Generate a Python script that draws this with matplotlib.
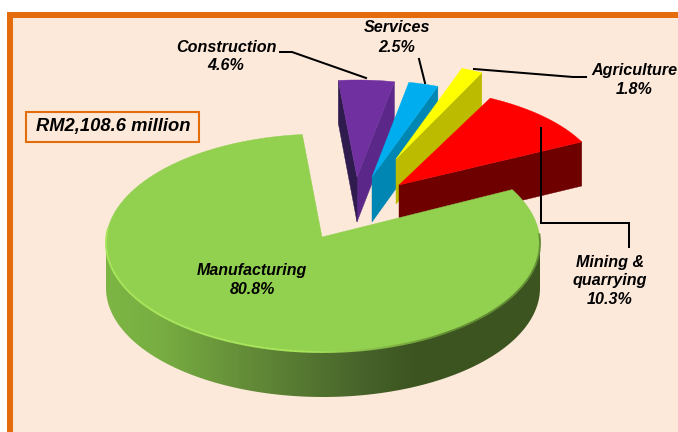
import numpy as np
import matplotlib
matplotlib.use("Agg")
import matplotlib.pyplot as plt
from matplotlib.patches import Polygon, Rectangle
from matplotlib.collections import LineCollection
from matplotlib.colors import LinearSegmentedColormap, to_rgb

# ---- data
sectors = ["Construction", "Services", "Agriculture", "Mining & quarrying", "Manufacturing"]
shares = [4.6, 2.5, 1.8, 10.3, 80.8]
total_label = "RM2,108.6 million"

# ---- style / layout
W, H = 678, 432
BG = "#FDE9DA"
ORANGE = "#E46C0A"
START = 95.5
RX, RY = 217.0, 109.0
DEPTH = 45.0
apex = {"Construction": (357, 177), "Services": (372, 177), "Agriculture": (396, 159),
        "Mining & quarrying": (399, 185)}
radius = {"Construction": (.90, .89), "Services": (.885, .885), "Agriculture": (.885, .885),
          "Mining & quarrying": (.94, .89)}
top_col = {"Construction": "#7030A0", "Services": "#00AEEF", "Agriculture": "#FFFF00",
           "Mining & quarrying": "#FF0000"}
side_col = {"Construction": "#5B2889", "Services": "#0086B3", "Agriculture": "#BDBB00",
            "Mining & quarrying": "#6E0000"}
GREEN = "#92D050"
MAIN_C = np.array([323.0, 243.0])
MAIN_APEX = np.array([322.0, 237.0])

plt.rcParams["font.family"] = ["Liberation Sans", "DejaVu Sans"]
fig = plt.figure(figsize=(W / 100, H / 100), dpi=100, facecolor="white")
ax = fig.add_axes([0, 0, 1, 1])
ax.set_xlim(0, W)
ax.set_ylim(H, 0)
ax.axis("off")

ax.add_patch(Rectangle((10, 15), W + 20, H + 20, fc=BG, ec=ORANGE, lw=4.3, zorder=0))

def poly(pts, col, z):
    p = Polygon(pts, closed=True, fc=col, ec=col, lw=0.3, zorder=z)
    ax.add_patch(p)
    return p

def unit(t):
    t = np.radians(t)
    return np.column_stack([RX * np.cos(t), -RY * np.sin(t)])

# ---- slice angles from the values (clockwise from START)
angles = {}
a = START
for name, v in zip(sectors, shares):
    angles[name] = (a, a - v * 3.6)
    a -= v * 3.6

# ---- exploded small slices
for z, name in enumerate(sectors[:-1], start=2):
    a0, a1 = angles[name]
    A = np.array(apex[name], float)
    arc = A + unit(np.linspace(a0, a1, 30)) * np.array(radius[name])
    down = np.array([0, DEPTH])
    # right radial face (hidden partly by the next slice)
    poly([A, arc[-1], arc[-1] + down * .98, A + down], side_col[name], z)
    if name == "Construction":
        poly([A, arc[0], arc[0] + down * .95, A + down], "#2F1B4E", z)
    poly(np.vstack([A, arc]), top_col[name], z + .5)

# ---- manufacturing slice: ray from apex to rim of the main ellipse
def rim_param(ang):
    d = unit(np.array([ang]))[0]
    o = MAIN_APEX - MAIN_C
    qa = (d[0] / RX) ** 2 + (d[1] / RY) ** 2
    qb = 2 * (o[0] * d[0] / RX ** 2 + o[1] * d[1] / RY ** 2)
    qc = (o[0] / RX) ** 2 + (o[1] / RY) ** 2 - 1
    s = (-qb + np.sqrt(qb * qb - 4 * qa * qc)) / (2 * qa)
    p = o + s * d
    return np.degrees(np.arctan2(-p[1] / RY, p[0] / RX))

a0, a1 = angles["Manufacturing"]
t0 = rim_param(a0) % 360
t1 = rim_param(a1) % 360 - 360
rim = MAIN_C + unit(np.linspace(t0, t1, 300))

# side wall with gradient
lower = MAIN_C + unit(np.linspace(180, 360, 200))
wall = np.vstack([lower + [0, DEPTH], lower[::-1]])
clip = Polygon(wall, closed=True, transform=ax.transData, fc="none", ec="none")
ax.add_patch(clip)
cmap = LinearSegmentedColormap.from_list("w", [(0, "#7DB644"), (.12, "#78AE42"), (.33, "#638B38"),
                                               (.6, "#46622A"), (.72, "#3C5420"), (1, "#3C5420")])
im = ax.imshow(np.linspace(0, 1, 256)[None, :], cmap=cmap, vmin=0, vmax=1, aspect="auto",
               extent=[MAIN_C[0] - RX, MAIN_C[0] + RX, 400, 230], zorder=8)
im.set_clip_path(clip)
ax.set_xlim(0, W)
ax.set_ylim(H, 0)

# top surface
poly(np.vstack([MAIN_APEX, rim]), GREEN, 9)

# rim highlight along the front edge
ts = np.linspace(172, 365, 200)
pts = MAIN_C + unit(ts)
segs = np.stack([pts[:-1], pts[1:]], axis=1)
light, dark = np.array(to_rgb("#A9E65C")), np.array(to_rgb("#5F8A32"))
f = np.clip((ts[:-1] - 265) / 40, 0, 1)[:, None]
ax.add_collection(LineCollection(segs, colors=light * (1 - f) + dark * f, linewidths=1.4, zorder=10))

# ---- leaders
LW = 1.45
for xs, ys in [([280, 292, 366], [52, 52, 78]),
               ([419, 425], [59, 83]),
               ([586, 573, 474], [77, 77, 69]),
               ([541, 541, 629, 629], [128, 223, 223, 247])]:
    ax.plot(xs, ys, color="black", lw=LW, zorder=12, solid_joinstyle="miter")

# ---- labels
def label(x, y, lines, size=11.6, step=19):
    for i, s in enumerate(lines):
        ax.text(x, y + i * step, s, ha="center", va="center", fontsize=size, fontweight="bold",
                fontstyle="italic", color="black", zorder=13)

label(226, 47, [sectors[0], f"{shares[0]}%"], step=18)
label(397, 28, [sectors[1], f"{shares[1]}%"])
label(634, 71, [sectors[2], f"{shares[2]}%"])
label(610, 262, ["Mining &", "quarrying", f"{shares[3]}%"])
label(252, 270, [sectors[4], f"{shares[4]}%"], size=11.5)

ax.add_patch(Rectangle((26, 112), 173, 29.5, fc=BG, ec=ORANGE, lw=1.5, zorder=12))
label(113, 127, [total_label], size=13.2)

fig.savefig("out.png", dpi=100, facecolor="white")
